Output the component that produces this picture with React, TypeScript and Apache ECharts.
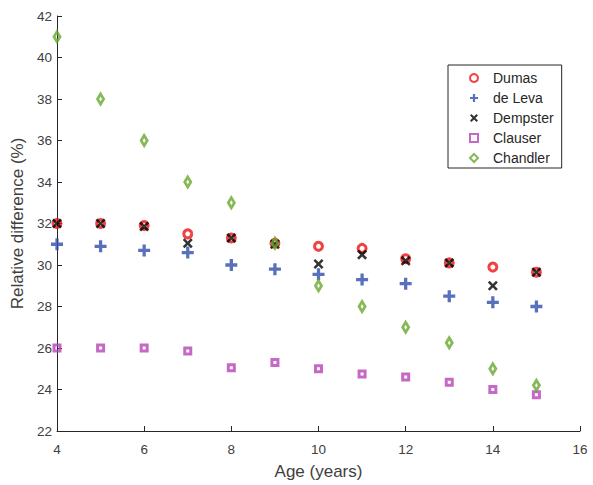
import React, { useEffect, useRef } from "react";
import * as echarts from "echarts";

const ages = [4, 5, 6, 7, 8, 9, 10, 11, 12, 13, 14, 15];
const dumas = [32.0, 32.0, 31.9, 31.5, 31.3, 31.05, 30.9, 30.8, 30.3, 30.1, 29.9, 29.65];
const deLeva = [31.0, 30.9, 30.7, 30.6, 30.0, 29.8, 29.55, 29.3, 29.1, 28.5, 28.2, 28.0];
const dempster = [32.0, 32.0, 31.85, 31.05, 31.3, 31.0, 30.05, 30.5, 30.2, 30.1, 29.0, 29.65];
const clauser = [26.0, 26.0, 26.0, 25.85, 25.05, 25.3, 25.0, 24.75, 24.6, 24.35, 24.0, 23.75];
const chandler = [41.0, 38.0, 36.0, 34.0, 33.0, 31.05, 29.0, 28.0, 27.0, 26.25, 25.0, 24.2];
const xTicks = { min: 4, max: 16, interval: 2 };
const yTicks = { min: 22, max: 42, interval: 2 };

const PLUS = "path://M4,0H7V4H11V7H7V11H4V7H0V4H4Z";
const CROSS =
  "path://M0,1.8L1.8,0L5,3.2L8.2,0L10,1.8L6.8,5L10,8.2L8.2,10L5,6.8L1.8,10L0,8.2L3.2,5Z";

const FONT = "'Liberation Sans', Arial, Helvetica, sans-serif";
const TEXT = "#404040";
const AXIS = "#262626";

function pairs(vals: number[]) {
  return ages.map((a, i) => [a, vals[i]]);
}

export default function App() {
  const ref = useRef<HTMLDivElement>(null);
  useEffect(() => {
    document.body.style.margin = "0";
    const chart = echarts.init(ref.current!, null, { renderer: "svg" });
    const none = "rgba(255,255,255,0)";
    chart.setOption({
      animation: false,
      backgroundColor: "#ffffff",
      textStyle: { fontFamily: FONT },
      grid: { left: 57, right: 13, top: 16, bottom: 52 },
      xAxis: {
        type: "value",
        min: xTicks.min,
        max: xTicks.max,
        interval: xTicks.interval,
        name: "Age (years)",
        nameLocation: "middle",
        nameGap: 32,
        nameTextStyle: { fontSize: 17, color: TEXT, fontFamily: FONT },
        axisLine: { show: true, onZero: false, lineStyle: { color: AXIS, width: 1 } },
        axisTick: { show: true, inside: true, length: 5, lineStyle: { color: AXIS } },
        axisLabel: { fontSize: 13.5, color: TEXT, margin: 11, fontFamily: FONT },
        splitLine: { show: false },
      },
      yAxis: {
        type: "value",
        min: yTicks.min,
        max: yTicks.max,
        interval: yTicks.interval,
        name: "Relative difference (%)",
        nameLocation: "middle",
        nameGap: 31,
        nameTextStyle: { fontSize: 17, color: TEXT, fontFamily: FONT },
        axisLine: { show: true, onZero: false, lineStyle: { color: AXIS, width: 1 } },
        axisTick: { show: true, inside: true, length: 5, lineStyle: { color: AXIS } },
        axisLabel: { fontSize: 13.5, color: TEXT, margin: 5, fontFamily: FONT },
        splitLine: { show: false },
      },
      legend: {
        orient: "vertical",
        left: 448,
        top: 65,
        padding: [6, 8, 3, 21],
        itemWidth: 8,
        itemHeight: 8,
        itemGap: 6,
        borderColor: "#262626",
        borderWidth: 1,
        backgroundColor: "#ffffff",
        textStyle: { fontSize: 14, color: "#262626", fontFamily: FONT, padding: [0, 0, 0, 10] },
        data: ["Dumas", "de Leva", "Dempster", "Clauser", "Chandler"],
      },
      series: [
        {
          name: "Dumas",
          type: "scatter",
          clip: false,
          symbol: "circle",
          symbolSize: 8,
          itemStyle: { color: none, borderColor: "#ee1111", borderWidth: 3 },
          data: pairs(dumas),
        },
        {
          name: "de Leva",
          type: "scatter",
          clip: false,
          symbol: PLUS,
          symbolSize: 12,
          itemStyle: { color: "#2f4cab" },
          data: pairs(deLeva),
        },
        {
          name: "Dempster",
          type: "scatter",
          clip: false,
          symbol: CROSS,
          symbolSize: 10,
          itemStyle: { color: "#000000" },
          data: pairs(dempster),
        },
        {
          name: "Clauser",
          type: "scatter",
          clip: false,
          symbol: "rect",
          symbolSize: 6,
          itemStyle: { color: none, borderColor: "#b843b6", borderWidth: 3 },
          data: pairs(clauser),
        },
        {
          name: "Chandler",
          type: "scatter",
          clip: false,
          symbol: "diamond",
          symbolSize: [6, 10],
          itemStyle: { color: none, borderColor: "#68a72d", borderWidth: 3 },
          data: pairs(chandler),
        },
      ],
    });
    return () => chart.dispose();
  }, []);
  return <div ref={ref} style={{ width: 593, height: 485 }} />;
}
